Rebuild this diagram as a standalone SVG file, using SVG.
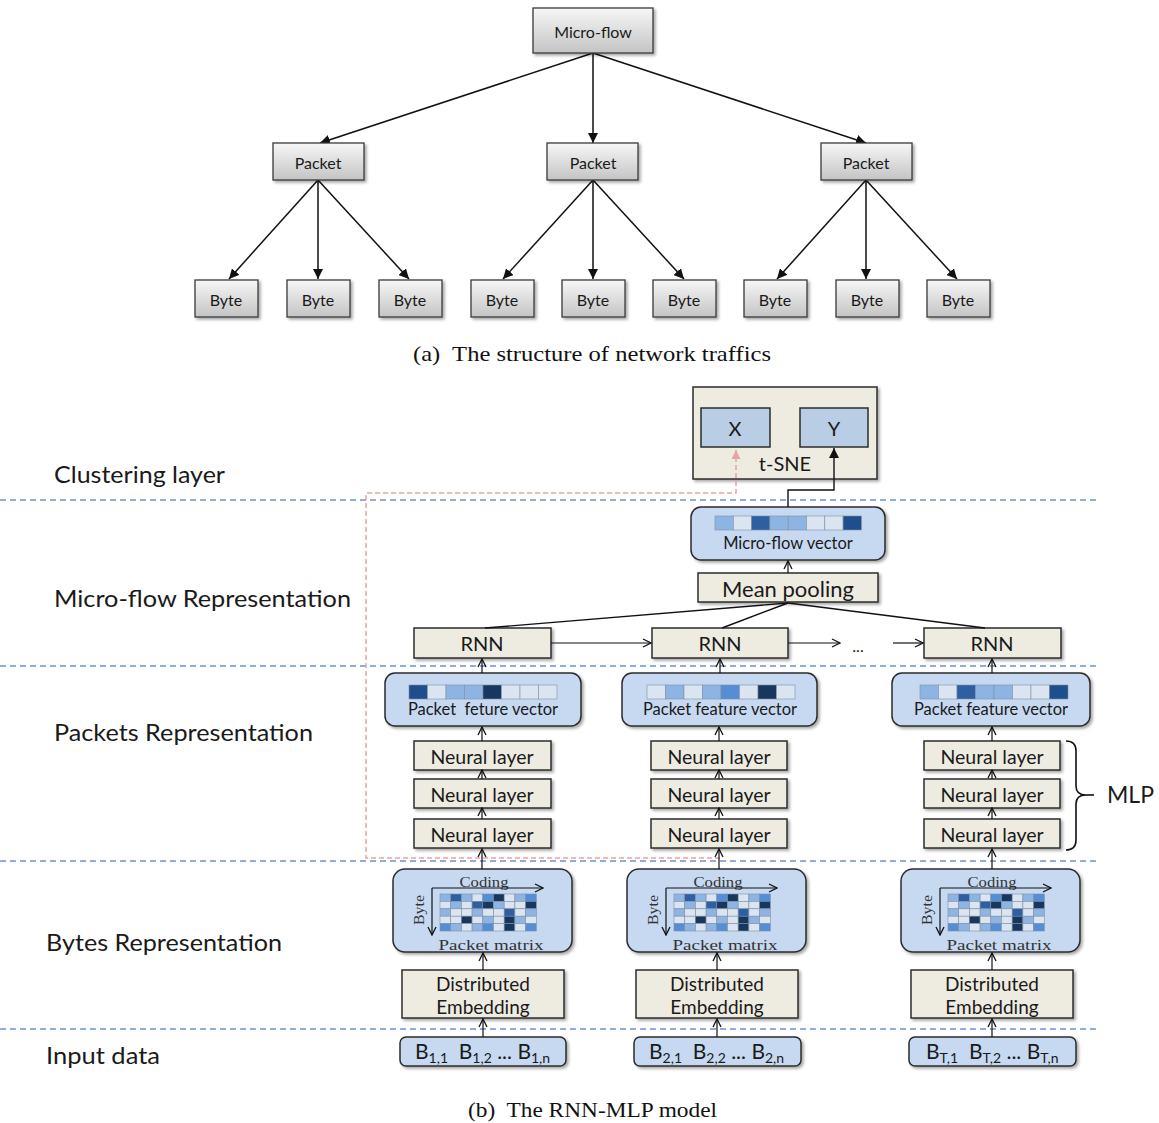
<svg xmlns="http://www.w3.org/2000/svg" width="1159" height="1123" viewBox="0 0 1159 1123">
<style>
.t{font-family:Lato,"Open Sans","Liberation Sans",sans-serif;fill:#1a1a1a}
.c{text-anchor:middle;dominant-baseline:central}
.mono{font-family:"Liberation Serif","DejaVu Serif",serif;fill:#333;font-size:15px}
.cap{font-family:"Liberation Serif","DejaVu Serif",serif;font-size:21px;fill:#111}
.gbox{fill:url(#gray);stroke:#3a3a3a;stroke-width:1.3;filter:url(#sh)}
.bbox{fill:#eeece1;stroke:#2b2b2b;stroke-width:1.5;filter:url(#sh)}
.blue{fill:#c6d9f1;stroke:#2b2b2b;stroke-width:1.5;filter:url(#sh)}
.sq{fill:#b9cde5;stroke:#2b2b2b;stroke-width:1.5}
.ln{stroke:#111;stroke-width:1.4;fill:none}
.tree{stroke:#111;stroke-width:1.5;fill:none;marker-end:url(#tri)}
.up{stroke:#111;stroke-width:1.2;fill:none;marker-end:url(#open)}
.sep{stroke:#6b93cc;stroke-width:1.3;stroke-dasharray:6 4;fill:none}
.cell{stroke:#7f8fa6;stroke-width:0.6}
.a{fill:#dbe5f1}.b{fill:#8eb4e3}.m{fill:#558ed5}.d{fill:#2e5fa0}.k{fill:#17375e}
</style>
<defs>
<linearGradient id="gray" x1="0" y1="0" x2="0" y2="1">
<stop offset="0" stop-color="#f7f7f7"/><stop offset="1" stop-color="#c4c4c4"/>
</linearGradient>
<filter id="sh" x="-10%" y="-10%" width="130%" height="140%">
<feDropShadow dx="2" dy="2" stdDeviation="1.5" flood-color="#000" flood-opacity="0.35"/>
</filter>
<marker id="tri" viewBox="0 0 10 10" refX="10" refY="5" markerWidth="10" markerHeight="10" markerUnits="userSpaceOnUse" orient="auto">
<path d="M0,0 L10,5 L0,10 z" fill="#111"/>
</marker>
<marker id="open" viewBox="0 0 10 10" refX="9" refY="5" markerWidth="10" markerHeight="10" markerUnits="userSpaceOnUse" orient="auto">
<path d="M1,1 L9,5 L1,9" fill="none" stroke="#111" stroke-width="1.3"/>
</marker>
<marker id="pink" viewBox="0 0 10 10" refX="10" refY="5" markerWidth="9" markerHeight="9" markerUnits="userSpaceOnUse" orient="auto">
<path d="M0,0 L10,5 L0,10 z" fill="#e8a3a3"/>
</marker>
<g id="pm">
<text class="mono c" x="91" y="13" textLength="49" lengthAdjust="spacingAndGlyphs">Coding</text>
<path class="up" d="M39,19 L150,19" stroke-width="1.5"/>
<path class="up" d="M39,19 L39,66" stroke-width="1.5"/>
<text class="mono c" transform="translate(26,41) rotate(-90)" textLength="30" lengthAdjust="spacingAndGlyphs">Byte</text>
<g transform="translate(47,25)">
<rect class="cell b" x="0" y="0" width="10.7" height="7.4"/><rect class="cell d" x="10.7" y="0" width="10.7" height="7.4"/><rect class="cell b" x="21.4" y="0" width="10.7" height="7.4"/><rect class="cell a" x="32.1" y="0" width="10.7" height="7.4"/><rect class="cell m" x="42.8" y="0" width="10.7" height="7.4"/><rect class="cell k" x="53.5" y="0" width="10.7" height="7.4"/><rect class="cell a" x="64.2" y="0" width="10.7" height="7.4"/><rect class="cell b" x="74.9" y="0" width="10.7" height="7.4"/><rect class="cell m" x="85.6" y="0" width="10.7" height="7.4"/>
<rect class="cell a" x="0" y="7.4" width="10.7" height="7.4"/><rect class="cell b" x="10.7" y="7.4" width="10.7" height="7.4"/><rect class="cell a" x="21.4" y="7.4" width="10.7" height="7.4"/><rect class="cell d" x="32.1" y="7.4" width="10.7" height="7.4"/><rect class="cell k" x="42.8" y="7.4" width="10.7" height="7.4"/><rect class="cell b" x="53.5" y="7.4" width="10.7" height="7.4"/><rect class="cell a" x="64.2" y="7.4" width="10.7" height="7.4"/><rect class="cell a" x="74.9" y="7.4" width="10.7" height="7.4"/><rect class="cell k" x="85.6" y="7.4" width="10.7" height="7.4"/>
<rect class="cell b" x="0" y="14.8" width="10.7" height="7.4"/><rect class="cell a" x="10.7" y="14.8" width="10.7" height="7.4"/><rect class="cell a" x="21.4" y="14.8" width="10.7" height="7.4"/><rect class="cell b" x="32.1" y="14.8" width="10.7" height="7.4"/><rect class="cell a" x="42.8" y="14.8" width="10.7" height="7.4"/><rect class="cell a" x="53.5" y="14.8" width="10.7" height="7.4"/><rect class="cell d" x="64.2" y="14.8" width="10.7" height="7.4"/><rect class="cell a" x="74.9" y="14.8" width="10.7" height="7.4"/><rect class="cell b" x="85.6" y="14.8" width="10.7" height="7.4"/>
<rect class="cell a" x="0" y="22.2" width="10.7" height="7.4"/><rect class="cell a" x="10.7" y="22.2" width="10.7" height="7.4"/><rect class="cell k" x="21.4" y="22.2" width="10.7" height="7.4"/><rect class="cell a" x="32.1" y="22.2" width="10.7" height="7.4"/><rect class="cell b" x="42.8" y="22.2" width="10.7" height="7.4"/><rect class="cell a" x="53.5" y="22.2" width="10.7" height="7.4"/><rect class="cell k" x="64.2" y="22.2" width="10.7" height="7.4"/><rect class="cell b" x="74.9" y="22.2" width="10.7" height="7.4"/><rect class="cell a" x="85.6" y="22.2" width="10.7" height="7.4"/>
<rect class="cell m" x="0" y="29.6" width="10.7" height="7.4"/><rect class="cell b" x="10.7" y="29.6" width="10.7" height="7.4"/><rect class="cell a" x="21.4" y="29.6" width="10.7" height="7.4"/><rect class="cell b" x="32.1" y="29.6" width="10.7" height="7.4"/><rect class="cell m" x="42.8" y="29.6" width="10.7" height="7.4"/><rect class="cell a" x="53.5" y="29.6" width="10.7" height="7.4"/><rect class="cell k" x="64.2" y="29.6" width="10.7" height="7.4"/><rect class="cell a" x="74.9" y="29.6" width="10.7" height="7.4"/><rect class="cell m" x="85.6" y="29.6" width="10.7" height="7.4"/>
</g>
<text class="mono c" x="98" y="76" textLength="105" lengthAdjust="spacingAndGlyphs">Packet matrix</text>
</g>
</defs>
<rect width="1159" height="1123" fill="#fff"/>

<!-- ===== Part (a) ===== -->
<g id="connectors-a">
<path class="tree" d="M593,53 L320,143"/>
<path class="tree" d="M593,53 L593,143"/>
<path class="tree" d="M593,53 L866,143"/>
<path class="tree" d="M318,180 L229,279"/>
<path class="tree" d="M318,180 L318,279"/>
<path class="tree" d="M318,180 L409,279"/>
<path class="tree" d="M593,180 L503,279"/>
<path class="tree" d="M593,180 L593,279"/>
<path class="tree" d="M593,180 L684,279"/>
<path class="tree" d="M866,180 L777,279"/>
<path class="tree" d="M866,180 L866,279"/>
<path class="tree" d="M866,180 L957,279"/>
</g>
<g id="microflow"><rect class="gbox" x="533" y="8" width="120" height="45"/><text class="t c" x="593" y="31" font-size="16">Micro-flow</text></g>
<g id="packet1"><rect class="gbox" x="273" y="143" width="91" height="37"/><text class="t c" x="318" y="162" font-size="16">Packet</text></g>
<g id="packet2"><rect class="gbox" x="547" y="143" width="91" height="37"/><text class="t c" x="593" y="162" font-size="16">Packet</text></g>
<g id="packet3"><rect class="gbox" x="821" y="143" width="91" height="37"/><text class="t c" x="866" y="162" font-size="16">Packet</text></g>
<g id="byte1"><rect class="gbox" x="195" y="280" width="63" height="37"/><text class="t c" x="226" y="299" font-size="16">Byte</text></g>
<g id="byte2"><rect class="gbox" x="287" y="280" width="63" height="37"/><text class="t c" x="318" y="299" font-size="16">Byte</text></g>
<g id="byte3"><rect class="gbox" x="379" y="280" width="63" height="37"/><text class="t c" x="410" y="299" font-size="16">Byte</text></g>
<g id="byte4"><rect class="gbox" x="471" y="280" width="63" height="37"/><text class="t c" x="502" y="299" font-size="16">Byte</text></g>
<g id="byte5"><rect class="gbox" x="562" y="280" width="63" height="37"/><text class="t c" x="593" y="299" font-size="16">Byte</text></g>
<g id="byte6"><rect class="gbox" x="653" y="280" width="63" height="37"/><text class="t c" x="684" y="299" font-size="16">Byte</text></g>
<g id="byte7"><rect class="gbox" x="744" y="280" width="63" height="37"/><text class="t c" x="775" y="299" font-size="16">Byte</text></g>
<g id="byte8"><rect class="gbox" x="836" y="280" width="63" height="37"/><text class="t c" x="867" y="299" font-size="16">Byte</text></g>
<g id="byte9"><rect class="gbox" x="927" y="280" width="63" height="37"/><text class="t c" x="958" y="299" font-size="16">Byte</text></g>
<text class="cap" x="413" y="361" textLength="358" lengthAdjust="spacingAndGlyphs" xml:space="preserve">(a)  The structure of network traffics</text>

<!-- ===== Part (b) ===== -->
<g id="separators">
<path class="sep" d="M0,500 H1100"/>
<path class="sep" d="M0,666 H1100"/>
<path class="sep" d="M0,861 H1100"/>
<path class="sep" d="M0,1029 H1100"/>
</g>
<g id="layer-labels" class="t" font-size="23">
<text x="54" y="483" textLength="171" lengthAdjust="spacingAndGlyphs">Clustering layer</text>
<text x="54" y="607" textLength="297" lengthAdjust="spacingAndGlyphs">Micro-flow Representation</text>
<text x="54" y="741" textLength="259" lengthAdjust="spacingAndGlyphs">Packets Representation</text>
<text x="46" y="951" textLength="236" lengthAdjust="spacingAndGlyphs">Bytes Representation</text>
<text x="46" y="1064" textLength="114" lengthAdjust="spacingAndGlyphs">Input data</text>
</g>

<g id="tsne">
<rect class="bbox" x="693" y="387" width="184" height="92"/>
<text class="t c" x="785" y="463" font-size="20">t-SNE</text>
</g>
<g id="x-node"><rect class="sq" x="701" y="408" width="69" height="39"/><text class="t c" x="735" y="428" font-size="20">X</text></g>
<g id="y-node"><rect class="sq" x="800" y="408" width="68" height="39"/><text class="t c" x="834" y="428" font-size="20">Y</text></g>

<g id="microflow-vector">
<rect class="blue" x="691" y="507" width="194" height="53" rx="10"/>
<rect class="cell b" x="715" y="516" width="18.3" height="14"/><rect class="cell a" x="733.3" y="516" width="18.3" height="14"/><rect class="cell d" x="751.6" y="516" width="18.3" height="14"/><rect class="cell b" x="769.9" y="516" width="18.3" height="14"/><rect class="cell b" x="788.2" y="516" width="18.3" height="14"/><rect class="cell a" x="806.5" y="516" width="18.3" height="14"/><rect class="cell a" x="824.8" y="516" width="18.3" height="14"/><rect class="cell" x="843.1" y="516" width="18.3" height="14" fill="#1f4e8c"/>
<text class="t c" x="788" y="543" font-size="16.5">Micro-flow vector</text>
</g>
<g id="mean-pooling"><rect class="bbox" x="698" y="573" width="180" height="29"/><text class="t c" x="788" y="588" font-size="22">Mean pooling</text></g>

<g id="rnn1"><rect class="bbox" x="414" y="628" width="137" height="30"/><text class="t c" x="482" y="643" font-size="20">RNN</text></g>
<g id="rnn2"><rect class="bbox" x="652" y="628" width="136" height="30"/><text class="t c" x="720" y="643" font-size="20">RNN</text></g>
<g id="rnn3"><rect class="bbox" x="924" y="628" width="137" height="30"/><text class="t c" x="992" y="643" font-size="20">RNN</text></g>
<text class="t c" x="858" y="645" font-size="16">...</text>

<g id="pfv1">
<rect class="blue" x="385" y="673" width="196" height="53" rx="10"/>
<rect class="cell" x="409" y="685" width="18.5" height="14" fill="#1f4e8c"/><rect class="cell a" x="427.5" y="685" width="18.5" height="14"/><rect class="cell b" x="446" y="685" width="18.5" height="14"/><rect class="cell b" x="464.5" y="685" width="18.5" height="14"/><rect class="cell k" x="483" y="685" width="18.5" height="14"/><rect class="cell a" x="501.5" y="685" width="18.5" height="14"/><rect class="cell a" x="520" y="685" width="18.5" height="14"/><rect class="cell a" x="538.5" y="685" width="18.5" height="14"/>
<text class="t c" x="483" y="709" font-size="16.5" xml:space="preserve">Packet  feture vector</text>
</g>
<g id="pfv2">
<rect class="blue" x="622" y="673" width="195" height="53" rx="10"/>
<rect class="cell a" x="647" y="685" width="18.5" height="14"/><rect class="cell b" x="665.5" y="685" width="18.5" height="14"/><rect class="cell a" x="684" y="685" width="18.5" height="14"/><rect class="cell b" x="702.5" y="685" width="18.5" height="14"/><rect class="cell m" x="721" y="685" width="18.5" height="14"/><rect class="cell a" x="739.5" y="685" width="18.5" height="14"/><rect class="cell k" x="758" y="685" width="18.5" height="14"/><rect class="cell a" x="776.5" y="685" width="18.5" height="14"/>
<text class="t c" x="720" y="709" font-size="16.5">Packet feature vector</text>
</g>
<g id="pfv3">
<rect class="blue" x="892" y="673" width="198" height="53" rx="10"/>
<rect class="cell b" x="920" y="685" width="18.5" height="14"/><rect class="cell a" x="938.5" y="685" width="18.5" height="14"/><rect class="cell d" x="957" y="685" width="18.5" height="14"/><rect class="cell b" x="975.5" y="685" width="18.5" height="14"/><rect class="cell b" x="994" y="685" width="18.5" height="14"/><rect class="cell a" x="1012.5" y="685" width="18.5" height="14"/><rect class="cell a" x="1031" y="685" width="18.5" height="14"/><rect class="cell" x="1049.5" y="685" width="18.5" height="14" fill="#1f4e8c"/>
<text class="t c" x="991" y="709" font-size="16.5">Packet feature vector</text>
</g>

<g id="nl1a"><rect class="bbox" x="414" y="741" width="137" height="29"/><text class="t c" x="482" y="756" font-size="19.5">Neural layer</text></g>
<g id="nl1b"><rect class="bbox" x="414" y="779" width="137" height="29"/><text class="t c" x="482" y="794" font-size="19.5">Neural layer</text></g>
<g id="nl1c"><rect class="bbox" x="414" y="819" width="137" height="29"/><text class="t c" x="482" y="834" font-size="19.5">Neural layer</text></g>
<g id="nl2a"><rect class="bbox" x="651" y="741" width="136" height="29"/><text class="t c" x="719" y="756" font-size="19.5">Neural layer</text></g>
<g id="nl2b"><rect class="bbox" x="651" y="779" width="136" height="29"/><text class="t c" x="719" y="794" font-size="19.5">Neural layer</text></g>
<g id="nl2c"><rect class="bbox" x="651" y="819" width="136" height="29"/><text class="t c" x="719" y="834" font-size="19.5">Neural layer</text></g>
<g id="nl3a"><rect class="bbox" x="924" y="741" width="136" height="29"/><text class="t c" x="992" y="756" font-size="19.5">Neural layer</text></g>
<g id="nl3b"><rect class="bbox" x="924" y="779" width="136" height="29"/><text class="t c" x="992" y="794" font-size="19.5">Neural layer</text></g>
<g id="nl3c"><rect class="bbox" x="924" y="819" width="136" height="29"/><text class="t c" x="992" y="834" font-size="19.5">Neural layer</text></g>

<g id="mlp">
<path d="M1066,741 Q1076,741 1076,751 L1076,786 Q1076,795 1086,795 Q1076,795 1076,804 L1076,840 Q1076,850 1066,850" fill="none" stroke="#111" stroke-width="1.6"/>
<path d="M1086,795 H1094" stroke="#111" stroke-width="1.6"/>
<text class="t" x="1107" y="803" font-size="23">MLP</text>
</g>

<g id="pm1"><rect class="blue" x="393" y="869" width="179" height="83" rx="12"/><use href="#pm" x="393" y="869"/></g>
<g id="pm2"><rect class="blue" x="627" y="869" width="179" height="83" rx="12"/><use href="#pm" x="627" y="869"/></g>
<g id="pm3"><rect class="blue" x="901" y="869" width="179" height="83" rx="12"/><use href="#pm" x="901" y="869"/></g>

<g id="de1"><rect class="bbox" x="402" y="970" width="162" height="48"/><text class="t c" x="483" y="983" font-size="19">Distributed</text><text class="t c" x="483" y="1006" font-size="19">Embedding</text></g>
<g id="de2"><rect class="bbox" x="636" y="970" width="162" height="48"/><text class="t c" x="717" y="983" font-size="19">Distributed</text><text class="t c" x="717" y="1006" font-size="19">Embedding</text></g>
<g id="de3"><rect class="bbox" x="911" y="970" width="162" height="48"/><text class="t c" x="992" y="983" font-size="19">Distributed</text><text class="t c" x="992" y="1006" font-size="19">Embedding</text></g>

<g id="in1"><rect class="blue" x="400" y="1037" width="166" height="29" rx="6"/>
<text class="t" x="415" y="1059" font-size="21" xml:space="preserve">B<tspan font-size="14" dy="4">1,1</tspan><tspan dy="-4">  B</tspan><tspan font-size="14" dy="4">1,2</tspan><tspan dy="-4"> ... B</tspan><tspan font-size="14" dy="4">1,n</tspan></text></g>
<g id="in2"><rect class="blue" x="634" y="1037" width="167" height="29" rx="6"/>
<text class="t" x="649" y="1059" font-size="21" xml:space="preserve">B<tspan font-size="14" dy="4">2,1</tspan><tspan dy="-4">  B</tspan><tspan font-size="14" dy="4">2,2</tspan><tspan dy="-4"> ... B</tspan><tspan font-size="14" dy="4">2,n</tspan></text></g>
<g id="in3"><rect class="blue" x="909" y="1037" width="167" height="29" rx="6"/>
<text class="t" x="926" y="1059" font-size="21" xml:space="preserve">B<tspan font-size="14" dy="4">T,1</tspan><tspan dy="-4">  B</tspan><tspan font-size="14" dy="4">T,2</tspan><tspan dy="-4"> ... B</tspan><tspan font-size="14" dy="4">T,n</tspan></text></g>

<g id="connectors-b">
<path d="M720,858 L366,858 L366,493 L736,493 L736,450" fill="none" stroke="#e8a3a3" stroke-width="1.5" stroke-dasharray="5 3" marker-end="url(#pink)"/>
<path class="ln" d="M788,507 L788,490 L834,490 L834,448" marker-end="url(#tri)"/>
<path class="up" d="M788,573 L788,561"/>
<path class="ln" d="M485,628 L788,603"/>
<path class="ln" d="M722,628 L788,603"/>
<path class="ln" d="M985,628 L788,603"/>
<path class="up" d="M551,643 L651,643"/>
<path class="up" d="M788,643 L840,643"/>
<path class="up" d="M893,643 L923,643"/>
<path class="up" d="M482,673 L482,659"/>
<path class="up" d="M720,673 L720,659"/>
<path class="up" d="M992,673 L992,659"/>
<path class="up" d="M482,741 L482,727"/>
<path class="up" d="M719,741 L719,727"/>
<path class="up" d="M992,741 L992,727"/>
<path class="up" d="M482,779 L482,770"/>
<path class="up" d="M719,779 L719,770"/>
<path class="up" d="M992,779 L992,770"/>
<path class="up" d="M482,819 L482,808"/>
<path class="up" d="M719,819 L719,808"/>
<path class="up" d="M992,819 L992,808"/>
<path class="up" d="M482,869 L482,849"/>
<path class="up" d="M719,869 L719,849"/>
<path class="up" d="M992,869 L992,849"/>
<path class="up" d="M483,970 L483,953"/>
<path class="up" d="M717,970 L717,953"/>
<path class="up" d="M992,970 L992,953"/>
<path class="up" d="M483,1037 L483,1019"/>
<path class="up" d="M717,1037 L717,1019"/>
<path class="up" d="M992,1037 L992,1019"/>
</g>
<text class="cap" x="468" y="1117" textLength="249" lengthAdjust="spacingAndGlyphs" xml:space="preserve">(b)  The RNN-MLP model</text>
</svg>
